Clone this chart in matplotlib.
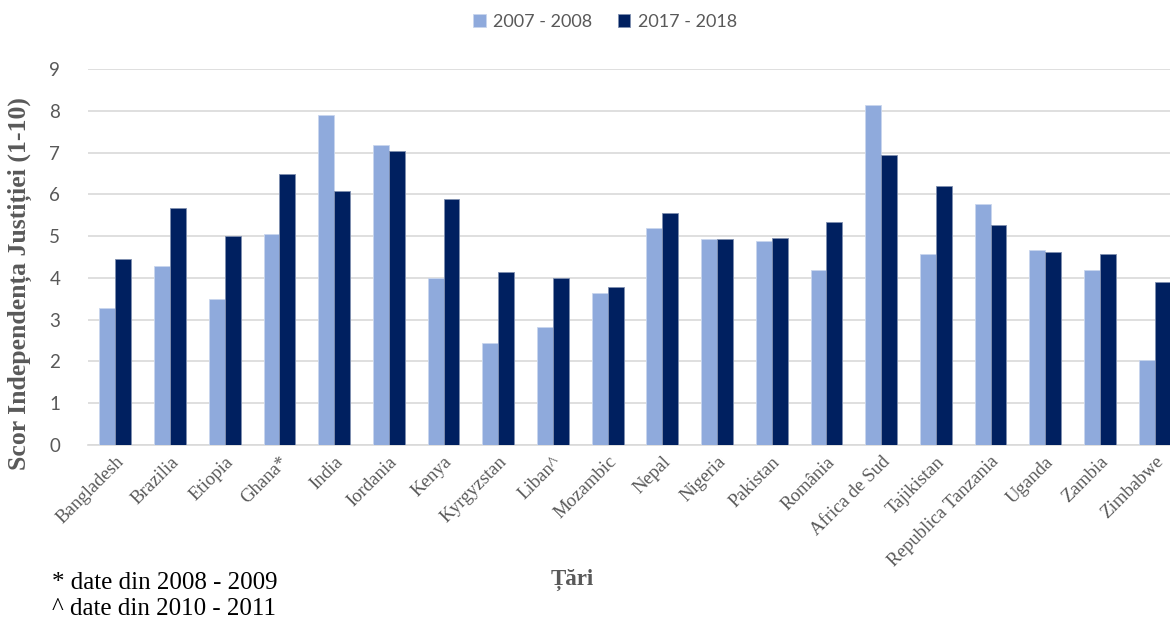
import numpy as np
import matplotlib.pyplot as plt

# country names (x categories)
countries = [
    "Bangladesh", "Brazilia", "Etiopia", "Ghana*", "India", "Iordania", "Kenya",
    "Kyrgyzstan", "Liban^", "Mozambic", "Nepal", "Nigeria", "Pakistan", "România",
    "Africa de Sud", "Tajikistan", "Republica Tanzania", "Uganda", "Zambia", "Zimbabwe",
]
# scores
score_2007 = [3.28, 4.28, 3.49, 5.06, 7.91, 7.18, 3.99, 2.43, 2.83, 3.65,
              5.19, 4.92, 4.88, 4.19, 8.15, 4.57, 5.78, 4.66, 4.18, 2.04]
score_2017 = [4.46, 5.67, 5.00, 6.48, 6.09, 7.03, 5.88, 4.13, 4.00, 3.77,
              5.55, 4.92, 4.95, 5.34, 6.94, 6.21, 5.27, 4.61, 4.57, 3.91]
series_labels = ["2007 - 2008", "2017 - 2018"]
yticks = list(range(0, 10))

LIGHT = "#8FAADC"
DARK = "#002060"
GRAY = "#595959"
SANS = ["Lato", "DejaVu Sans"]
SERIF = ["Liberation Serif", "DejaVu Serif"]

fig = plt.figure(figsize=(11.7, 6.21), dpi=100)
ax = fig.add_axes([88 / 1170, 1 - 445 / 621, 1 - 88 / 1170, (445 - 69) / 621])

x = np.arange(len(countries))
w = 0.29
ax.bar(x - w / 2, score_2007, w, color=LIGHT, edgecolor="#C9D6EE", linewidth=0.6,
       label=series_labels[0], zorder=3)
ax.bar(x + w / 2, score_2017, w, color=DARK, edgecolor="#7F8FB0", linewidth=0.6,
       label=series_labels[1], zorder=3)

ax.set_ylim(0, 9)
ax.set_xlim(-0.5, (1170 - 88) / 54.7 - 0.5)
ax.set_yticks(yticks)
ax.set_yticklabels([str(t) for t in yticks], family=SANS, fontsize=13.5, color=GRAY)
ax.yaxis.grid(True, color="#D9D9D9", linewidth=1.2, zorder=0)
ax.tick_params(axis="y", length=0, pad=20)
ax.tick_params(axis="x", length=0, pad=6)
ax.set_xticks(x)
ax.set_xticklabels(countries, rotation=45, ha="right", rotation_mode="anchor",
                   family=SERIF, fontsize=13.5, color=GRAY)
for s in ["top", "right", "left"]:
    ax.spines[s].set_visible(False)
ax.spines["bottom"].set_color("#D9D9D9")
ax.spines["bottom"].set_linewidth(1.2)

ax.set_ylabel("Scor Independența Justiției (1-10)", family=SERIF, fontsize=18.5,
              fontweight="bold", color=GRAY)
ax.yaxis.set_label_coords(-0.052, 0.43)

fig.legend(loc="center", bbox_to_anchor=(605 / 1170, 1 - 22 / 621), ncol=2, frameon=False,
           prop={"family": SANS, "size": 13}, labelcolor=GRAY, handlelength=0.7,
           handleheight=0.7, handletextpad=0.4, columnspacing=1.4)

fig.text(572 / 1170, 1 - 580 / 621, "Țări", family=SERIF, fontsize=16.5, fontweight="bold",
         color=GRAY, ha="center", va="center")
fig.text(52 / 1170, 1 - 583 / 621, "* date din 2008 - 2009", family=SERIF, fontsize=18,
         color="black", ha="left", va="center")
fig.text(52 / 1170, 1 - 609 / 621, "^ date din 2010 - 2011", family=SERIF, fontsize=18,
         color="black", ha="left", va="center")

fig.savefig("out.png", dpi=100, facecolor="white")
